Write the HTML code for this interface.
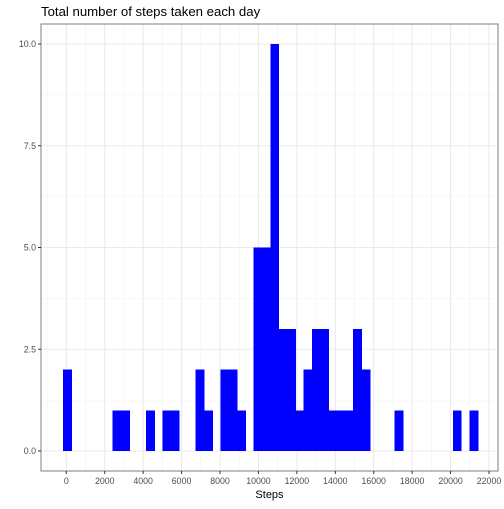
<!DOCTYPE html>
<html><head><meta charset="utf-8"><style>
body{margin:0;background:#fff}
svg text{font-family:"Liberation Sans",Arial,sans-serif}
</style></head><body>
<svg id="c" width="504" height="504" xmlns="http://www.w3.org/2000/svg"></svg>
<script>
const binStart = -175;
const binWidth = 431.7;
const binIndex = [0,6,7,10,12,13,16,17,19,20,21,23,24,25,26,27,28,29,30,31,32,33,34,35,36,40,47,49];
const binCount = [2,1,1,1,1,1,2,1,2,2,1,5,5,10,3,3,1,2,3,3,1,1,1,3,2,1,1,1];
const xTicks = [0,2000,4000,6000,8000,10000,12000,14000,16000,18000,20000,22000];
const yTicks = [0,2.5,5,7.5,10];
const yTickLabels = ["0.0","2.5","5.0","7.5","10.0"];

const NS="http://www.w3.org/2000/svg";
const svg=document.getElementById('c');
const PL=41,PR=498,PT=24,PB=471;
const x=v=>66.3+v*(422.7/22000);
const y=v=>451-v*40.7;
function el(t,a){const e=document.createElementNS(NS,t);for(const k in a)e.setAttribute(k,a[k]);svg.appendChild(e);return e;}
for(let v=-1000;v<=23000;v+=2000){const px=x(v);if(px>PL&&px<PR){const l=el('line',{x1:px,x2:px,y1:PT,y2:PB,stroke:'#f2f2f2','stroke-width':0.6});}}
for(let v=-1.25;v<=11.25;v+=2.5){const py=y(v);if(py>PT&&py<PB){const l=el('line',{x1:PL,x2:PR,y1:py,y2:py,stroke:'#f2f2f2','stroke-width':0.6});}}
xTicks.forEach(v=>{const l=el('line',{x1:x(v),x2:x(v),y1:PT,y2:PB,stroke:'#ebebeb','stroke-width':1.1});});
yTicks.forEach(v=>{const l=el('line',{x1:PL,x2:PR,y1:y(v),y2:y(v),stroke:'#ebebeb','stroke-width':1.1});});
binIndex.forEach((b,i)=>{const l=binStart+b*binWidth;const r=el('rect',{x:x(l),y:y(binCount[i]),width:x(l+binWidth)-x(l)+0.6,height:y(0)-y(binCount[i]),fill:'#0000ff','shape-rendering':'crispEdges'});

});
const bd=el('rect',{x:PL,y:PT,width:PR-PL,height:PB-PT,fill:'none',stroke:'#7f7f7f','stroke-width':1});

xTicks.forEach(v=>{el('line',{x1:x(v),x2:x(v),y1:PB,y2:PB+3,stroke:'#333','stroke-width':1});
const t=el('text',{x:x(v),y:PB+13,'font-size':8.8,fill:'#4d4d4d','text-anchor':'middle'});t.textContent=v;
});
yTicks.forEach((v,i)=>{el('line',{x1:PL-3,x2:PL,y1:y(v),y2:y(v),stroke:'#333','stroke-width':1});
const t=el('text',{x:PL-5,y:y(v)+3,'font-size':8.8,fill:'#4d4d4d','text-anchor':'end'});t.textContent=yTickLabels[i];
});
const xt=el('text',{x:269.5,y:498,'font-size':11,fill:'#000','text-anchor':'middle'});xt.textContent='Steps';

const tt=el('text',{x:41,y:16,'font-size':13.2,fill:'#000'});tt.textContent='Total number of steps taken each day';

</script>
</body></html>
